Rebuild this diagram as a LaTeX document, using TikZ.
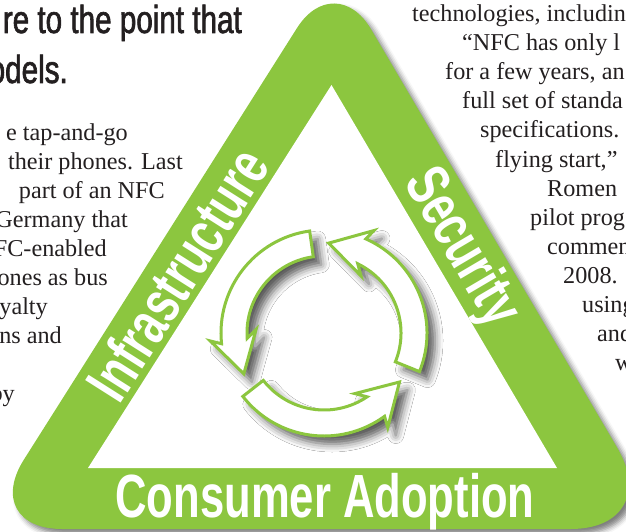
\documentclass[tikz,border=0pt]{standalone}
\usepackage{fontspec}
\setmainfont{Liberation Serif}
\newfontfamily\bandfont{Liberation Sans}[FakeStretch=0.715]
\newfontfamily\headfont{Liberation Sans}[FakeStretch=0.76, FakeBold=1.6]
\usetikzlibrary{shadows.blur}

\definecolor{leaf}{HTML}{8CC63F}
\definecolor{ink}{HTML}{231F20}

\tikzset{
  bodyline/.style={font=\fontsize{24.2}{29}\selectfont, text=ink, inner sep=0pt},
  leftline/.style={bodyline, anchor=base east},
  rightline/.style={bodyline, anchor=base west},
  headline/.style={font=\headfont\fontsize{39}{50}\selectfont, text=ink, inner sep=0pt, anchor=base east},
  bandtext/.style={font=\bandfont\bfseries\fontsize{61}{61}\selectfont, text=white, inner sep=0pt},
  band/.style={fill=leaf, blur shadow={shadow xshift=5pt, shadow yshift=-5pt, shadow blur radius=5pt, shadow opacity=50}},
  cyclearrow/.style={fill=white, draw=leaf, line width=3pt, line join=miter,
    blur shadow={shadow xshift=8pt, shadow yshift=-8pt, shadow blur radius=8pt, shadow opacity=65}},
}

\begin{document}
\begin{tikzpicture}[x=1pt,y=-1pt]
\useasboundingbox (0,0) rectangle (626,532);
\clip (0,0) rectangle (626,532);

% heading
\node[headline] (h1) at (242,33) {re to the point that};
\node[headline] (h2) at (68,83) {odels.};

% left column
\node[leftline] (l1) at (128,140) {e tap-and-go};
\node[leftline] (l2) at (183,169) {their phones. Last};
\node[leftline] (l3) at (165,198) {part of an NFC};
\node[leftline] (l4) at (128,227) {Germany that};
\node[leftline] (l5) at (107,256) {FC-enabled};
\node[leftline] (l6) at (108,285) {ones as bus};
\node[leftline] (l7) at (48,314) {yalty};
\node[leftline] (l8) at (62,343) {ns and};
\node[leftline] (l9) at (15,401) {by};

% right column
\node[rightline] (r1) at (412,22) {technologies, includin};
\node[rightline] (r2) at (462,51) {“NFC has only l};
\node[rightline] (r3) at (445,80) {for a few years, an};
\node[rightline] (r4) at (462,109) {full set of standa};
\node[rightline] (r5) at (480,138) {specifications.};
\node[rightline] (r6) at (495,167) {flying start,”};
\node[rightline] (r7) at (547,196) {Romen};
\node[rightline] (r8) at (530,225) {pilot prog};
\node[rightline] (r9) at (547,254) {commen};
\node[rightline] (r10) at (563,283) {2008.};
\node[rightline] (r11) at (582,312) {using};
\node[rightline] (r12) at (597,341) {and};
\node[rightline] (r13) at (615,370) {w};

% triangle frame
\coordinate (A) at (335,-32);
\coordinate (B) at (-20,529);
\coordinate (C) at (665,529);
\coordinate (M) at (322,529);
\coordinate (ia) at (331.5,85);
\coordinate (ib) at (88,468);
\coordinate (ic) at (557,468);

\path[band] (M) [rounded corners=82pt] -- (B) [rounded corners=71pt] -- (A) [rounded corners=94pt] -- (C) [rounded corners=1pt] -- cycle;
\fill[white] (ia) -- (ib) -- (ic) -- cycle;

% side labels
\node[bandtext, rotate=57.6, text height=44pt, text depth=0pt] (infra) at (177,274) {Infrastructure};
\node[bandtext, rotate=-59.5, text height=44pt, text depth=0pt] (secu) at (466,245) {Security};
\node[bandtext, anchor=base] (cons) at (325,517) {Consumer Adoption};

% cycle of three arrows
\begin{scope}[shift={(324,333)}]
  \foreach \a in {98,218,338} {
    \path[cyclearrow] (\a:103pt) arc[start angle=\a, end angle=\a+88, radius=103pt]
      -- ({\a+86}:114pt) -- ({\a+109}:90pt) -- ({\a+79}:68pt) -- ({\a+86}:77pt)
      arc[start angle=\a+86, end angle=\a, radius=77pt] -- cycle;
  }
\end{scope}
\end{tikzpicture}
\end{document}
